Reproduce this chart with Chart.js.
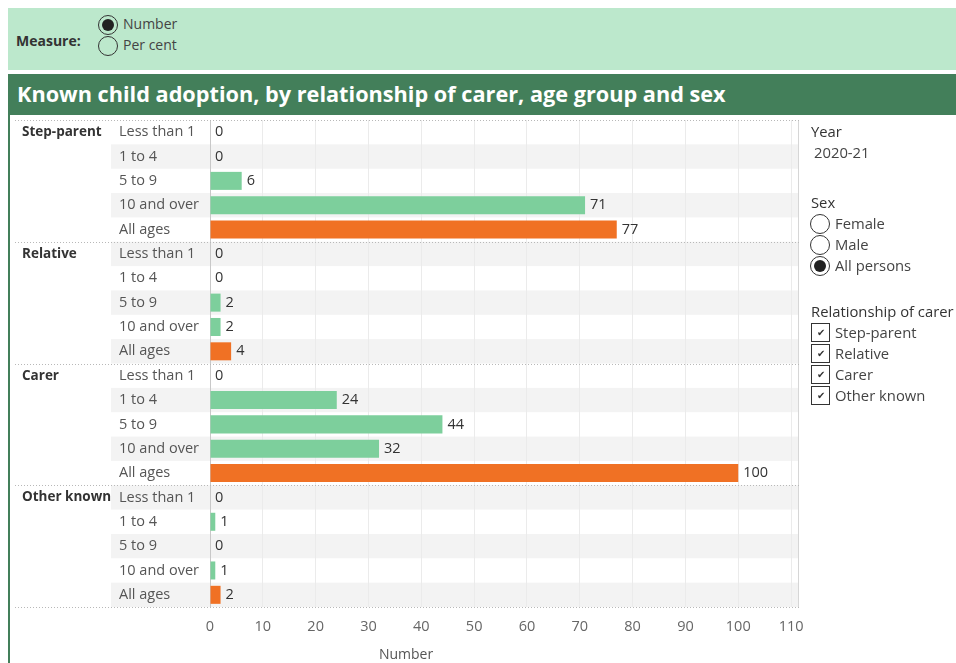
<!DOCTYPE html>
<html>
<head>
<meta charset="utf-8">
<script src="https://cdn.jsdelivr.net/npm/chart.js@4"></script>
<style>
  body { margin: 0; width: 956px; height: 663px; overflow: hidden; background: #fff; position: relative;
         font-family: "Open Sans", sans-serif; color: #333; }
  .abs { position: absolute; white-space: nowrap; }
  #filterBar { position: absolute; left: 8px; top: 8px; width: 948px; height: 62px; background: #bce8cc; }
  #titleBar { position: absolute; left: 8px; top: 74px; width: 948px; height: 41px; background: #437f5a; }
  #titleBar span { position: absolute; left: 9px; top: 5px; color: #fff; font-weight: bold; font-size: 21.7px; }
  #sheet { position: absolute; left: 8px; top: 115px; width: 948px; height: 548px; border-left: 2px solid #437f5a; box-sizing: border-box; }
  .radio { position: absolute; width: 18px; height: 18px; border: 1px solid #333; border-radius: 50%; background: transparent; }
  .radio.on::after { content: ""; position: absolute; left: 3px; top: 3px; width: 12px; height: 12px; border-radius: 50%; background: #222; }
  .check { position: absolute; width: 17px; height: 17px; border: 1px solid #333; background: #fff; font-size: 10px; line-height: 17px; text-align: center; }
  .lbl { font-size: 14px; color: #444; }
  .plbl { font-size: 14.8px; color: #444; }
  .hdr { font-size: 14.8px; color: #333; }
  canvas { position: absolute; left: 8px; top: 116px; }
</style>
</head>
<body>
<div id="filterBar"></div>
<div class="abs" style="left:16px; top:31px; font-size:14px; font-weight:bold;">Measure:</div>
<div class="radio on" style="left:98px; top:15px;"></div>
<div class="radio" style="left:98px; top:36px;"></div>
<div class="abs lbl" style="left:123px; top:14px;">Number</div>
<div class="abs lbl" style="left:123px; top:35px;">Per cent</div>

<div id="titleBar"><span>Known child adoption, by relationship of carer, age group and sex</span></div>
<div id="sheet"></div>
<canvas id="chart" width="810" height="547"></canvas>

<div class="abs hdr" style="left:811px; top:121px;">Year</div>
<div class="abs plbl" style="left:814px; top:142px;">2020-21</div>
<div class="abs hdr" style="left:811px; top:192px;">Sex</div>
<div class="radio" style="left:810px; top:214px;"></div>
<div class="radio" style="left:810px; top:235px;"></div>
<div class="radio on" style="left:810px; top:256px;"></div>
<div class="abs plbl" style="left:835px; top:213px;">Female</div>
<div class="abs plbl" style="left:835px; top:234px;">Male</div>
<div class="abs plbl" style="left:835px; top:255px;">All persons</div>
<div class="abs hdr" style="left:811px; top:301px;">Relationship of carer</div>
<div class="check" style="left:811px; top:323px;">&#10004;</div>
<div class="check" style="left:811px; top:344px;">&#10004;</div>
<div class="check" style="left:811px; top:365px;">&#10004;</div>
<div class="check" style="left:811px; top:386px;">&#10004;</div>
<div class="abs plbl" style="left:835px; top:322px;">Step-parent</div>
<div class="abs plbl" style="left:835px; top:343px;">Relative</div>
<div class="abs plbl" style="left:835px; top:364px;">Carer</div>
<div class="abs plbl" style="left:835px; top:385px;">Other known</div>

<script>
const groups = ['Step-parent', 'Relative', 'Carer', 'Other known'];
const ageGroups = ['Less than 1', '1 to 4', '5 to 9', '10 and over', 'All ages'];
const stepParent = [0, 0, 6, 71, 77];
const relative = [0, 0, 2, 2, 4];
const carer = [0, 24, 44, 32, 100];
const otherKnown = [0, 1, 0, 1, 2];
const xTicks = [0, 10, 20, 30, 40, 50, 60, 70, 80, 90, 100, 110];
const xMax = 111.5;
const axisTitle = 'Number';

const green = '#7dcf9c';
const orange = '#f07124';
const fontFamily = '"Open Sans", sans-serif';

const labels = [];
groups.forEach(() => ageGroups.forEach((a) => labels.push(a)));
const values = [...stepParent, ...relative, ...carer, ...otherKnown];
const colors = labels.map((l) => (l === 'All ages' ? orange : green));

// Tableau-like table decorations: banding, group labels, separators
const tablePlugin = {
  id: 'table',
  beforeDraw(chart) {
    const { ctx, chartArea, scales } = chart;
    const y = scales.y;
    const rowH = y.getPixelForValue(1) - y.getPixelForValue(0);
    ctx.save();
    ctx.fillStyle = '#f3f3f3';
    labels.forEach((_, i) => {
      if (i % 2 === 1) {
        ctx.fillRect(103, y.getPixelForValue(i) - rowH / 2, chartArea.right - 103, rowH);
      }
    });
    ctx.restore();
  },
  afterDatasetsDraw(chart) {
    const { ctx } = chart;
    const meta = chart.getDatasetMeta(0);
    ctx.save();
    ctx.fillStyle = '#333';
    ctx.font = '14.5px ' + fontFamily;
    ctx.textBaseline = 'middle';
    ctx.textAlign = 'left';
    meta.data.forEach((bar, i) => {
      ctx.fillText(String(values[i]), bar.x + 5, bar.y);
    });
    ctx.restore();
  },
  afterDraw(chart) {
    const { ctx, chartArea, scales } = chart;
    const y = scales.y;
    const rowH = y.getPixelForValue(1) - y.getPixelForValue(0);
    ctx.save();
    // right border of plot
    ctx.strokeStyle = '#d6d6d6';
    ctx.lineWidth = 1;
    ctx.beginPath();
    ctx.moveTo(chartArea.right - 0.5, chartArea.top);
    ctx.lineTo(chartArea.right - 0.5, chartArea.bottom);
    ctx.stroke();
    // dotted group separators
    ctx.strokeStyle = '#b8b8b8';
    ctx.setLineDash([1, 2]);
    for (let g = 0; g <= groups.length; g++) {
      const py = Math.round(y.getPixelForValue(g * ageGroups.length) - rowH / 2) + 0.5;
      ctx.beginPath();
      ctx.moveTo(7, py);
      ctx.lineTo(chartArea.right, py);
      ctx.stroke();
    }
    ctx.setLineDash([]);
    // group labels
    ctx.fillStyle = '#333';
    ctx.font = 'bold 13.5px ' + fontFamily;
    ctx.textBaseline = 'middle';
    ctx.textAlign = 'left';
    groups.forEach((g, k) => {
      ctx.fillText(g, 14, y.getPixelForValue(k * ageGroups.length));
    });
    // axis title, centred on the whole sheet
    ctx.fillStyle = '#555';
    ctx.font = '14px ' + fontFamily;
    ctx.textAlign = 'center';
    ctx.fillText(axisTitle, 398, 539);
    ctx.restore();
  },
};

new Chart(document.getElementById('chart').getContext('2d'), {
  type: 'bar',
  data: {
    labels,
    datasets: [{
      data: values,
      backgroundColor: colors,
      borderWidth: 0,
      categoryPercentage: 1,
      barPercentage: 0.74,
    }],
  },
  options: {
    indexAxis: 'y',
    responsive: false,
    animation: false,
    layout: { padding: { left: 111, right: 19, top: 4, bottom: 0 } },
    plugins: { legend: { display: false }, tooltip: { enabled: false } },
    scales: {
      x: {
        min: 0,
        max: xMax,
        afterBuildTicks: (s) => { s.ticks = xTicks.map((v) => ({ value: v })); },
        afterFit: (s) => { s.height = 56; s.paddingLeft = 0; s.paddingRight = 0; },
        grid: { color: '#ebebeb', drawTicks: false },
        border: { display: false },
        ticks: { padding: 11, color: '#666', font: { size: 14.5, family: fontFamily } },
      },
      y: {
        afterFit: (s) => { s.width = 91; s.paddingTop = 0; s.paddingBottom = 0; },
        grid: { display: false },
        border: { color: '#c8c8c8' },
        ticks: { crossAlign: 'far', padding: 0, autoSkip: false, color: '#555', font: { size: 14.5, family: fontFamily } },
      },
    },
  },
  plugins: [tablePlugin],
});
</script>
</body>
</html>
